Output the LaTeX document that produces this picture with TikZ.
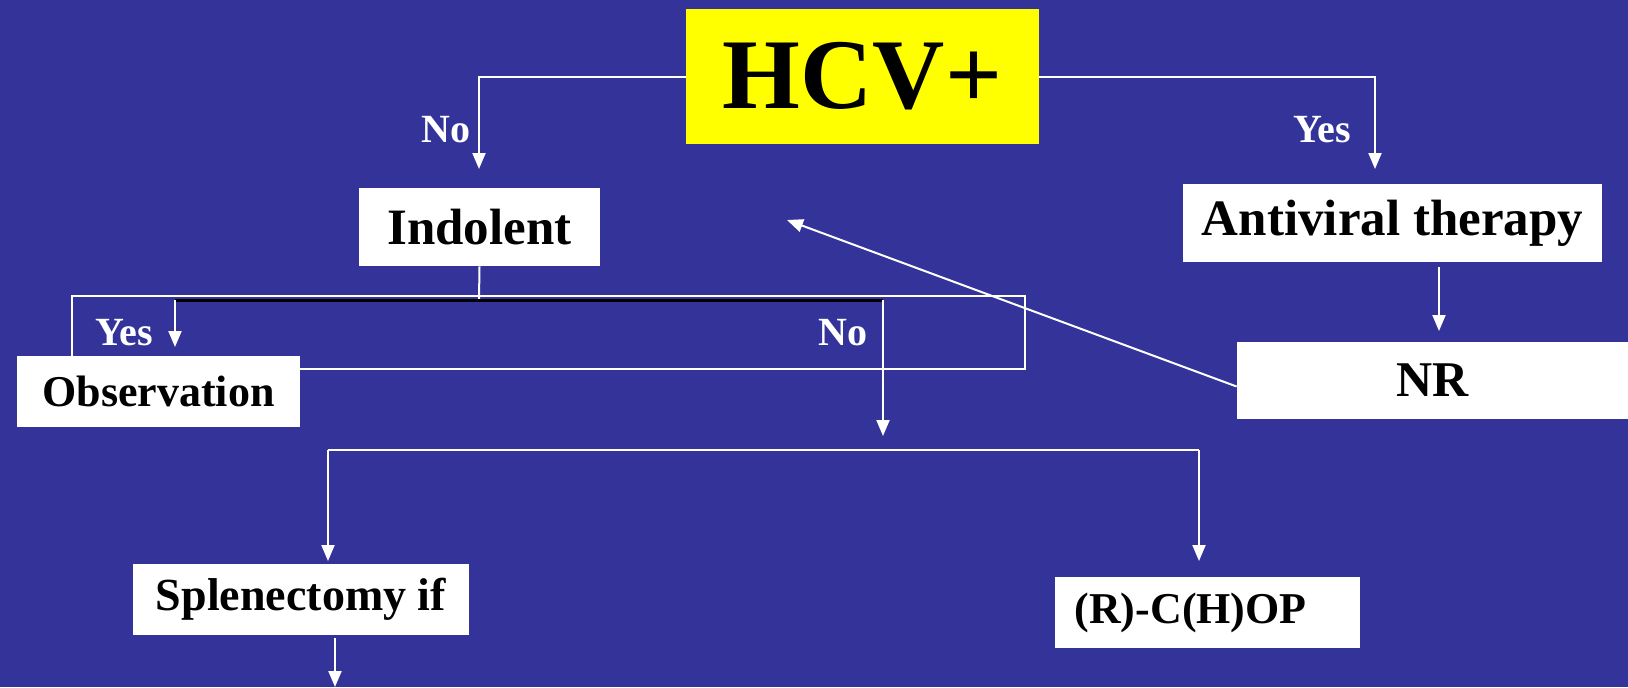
\documentclass[tikz,border=0pt]{standalone}
\usepackage{fontspec}
\setmainfont{Liberation Serif}
\usetikzlibrary{arrows.meta,positioning}
\definecolor{slideblue}{HTML}{333399}
\definecolor{hcvyellow}{HTML}{FFFF00}
\tikzset{
    every node/.style={font=\bfseries},
    box/.style={fill=white,text=black,inner sep=0pt,align=center},
    wire/.style={draw=white,line width=1pt},
    arr/.style={wire,-{Triangle[length=8pt,width=6.5pt]}},
    lab/.style={text=white,font=\bfseries\fontsize{20}{24}\selectfont},
    midfont/.style={font=\bfseries\fontsize{25.5}{30}\selectfont},
    lowfont/.style={font=\bfseries\fontsize{22}{26}\selectfont}
}

\begin{document}
\begin{tikzpicture}[x=0.5pt,y=-0.5pt]
\fill[slideblue] (0,0) rectangle (1628,687);
\useasboundingbox (0,0) rectangle (1628,687);
% the open frame behind the Yes/No split
\draw[wire] (72,296) rectangle (1025,369);
% boxes
\node[box,fill=hcvyellow,minimum width=176.5pt,minimum height=67.5pt,font=\bfseries\fontsize{50}{58}\selectfont] (hcv) at (862.5,76.5) {HCV+};
\node[box,midfont,minimum width=120.5pt,minimum height=39pt] (indolent) at (479.5,227) {Indolent};
\node[box,midfont,minimum width=209.5pt,minimum height=39pt] (antiviral) at (1392.5,223) {Antiviral therapy};
\node[box,font=\bfseries\fontsize{25}{29}\selectfont,minimum width=195.5pt,minimum height=38.5pt] (nr) at (1432.5,380.5) {NR};
\node[box,lowfont,minimum width=141.5pt,minimum height=35.5pt] (observation) at (158.5,391.5) {Observation};
\node[box,font=\bfseries\fontsize{23}{27}\selectfont,minimum width=168pt,minimum height=35.5pt] (splen) at (301,599.5) {Splenectomy if};
\node[box,lowfont,minimum width=152.5pt,minimum height=35.5pt,text width=133pt,align=left] (chop) at (1207.5,612.5) {(R)-C(H)OP};
% free ends
\coordinate (noend) at (479,169);
\coordinate (yesend) at (1375,169);
\coordinate (split) at (479,300);
\coordinate (yesleft) at (175,300);
\coordinate (noright) at (883,300);
\coordinate (yesdown) at (175,347);
\coordinate (nodown) at (883,436);
\coordinate (barleft) at (328,450);
\coordinate (barright) at (1199,450);
\coordinate (splendown) at (328,561);
\coordinate (chopdown) at (1199,561);
\coordinate (splenfoot) at (335,638);
\coordinate (splenout) at (335,687);
\coordinate (nrin) at (1439,331);
\coordinate (back) at (787,220);
% connectors
\draw[arr] (hcv.west) -| (noend);
\draw[arr] (hcv.east) -| (yesend);
\draw[wire] (indolent.south) -- (split);
\draw[black,line width=1.5pt] (yesleft) -- (noright);
\draw[arr] (yesleft) -- (yesdown);
\draw[arr] (noright) -- (nodown);
\draw[wire] (barleft) -- (barright);
\draw[arr] (barleft) -- (splendown);
\draw[arr] (barright) -- (chopdown);
\draw[arr] (splenfoot) -- (splenout);
\draw[arr] ([yshift=-2.5pt]antiviral.south -| nrin) -- (nrin);
\draw[arr] ([yshift=-3pt]nr.west) -- (back);
% labels
\node[lab] (no1) at (446,130) {No};
\node[lab] (yes1) at (1322,130) {Yes};
\node[lab] (yes2) at (124,333) {Yes};
\node[lab] (no2) at (843,333) {No};
\end{tikzpicture}
\end{document}
